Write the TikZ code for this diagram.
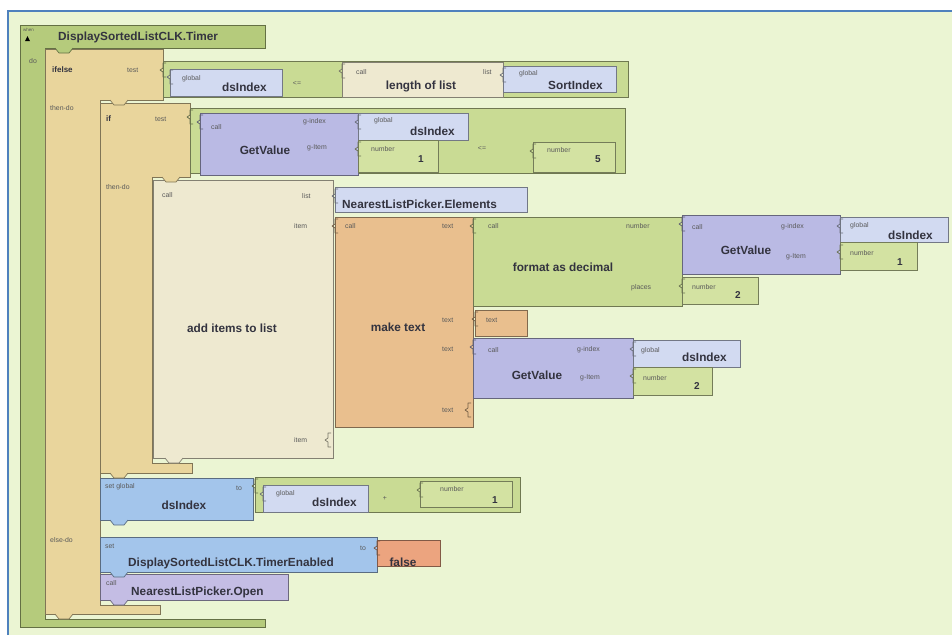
\documentclass[tikz,border=0pt]{standalone}
\usepackage{fontspec}
\setmainfont{Liberation Sans}
\definecolor{bgc}{HTML}{EBF5D3}
\definecolor{framec}{HTML}{4F81BD}
\definecolor{evgreen}{HTML}{B5CB7C}
\definecolor{tan}{HTML}{E9D59C}
\definecolor{cmpgreen}{HTML}{C9DB94}
\definecolor{numgreen}{HTML}{D3E2A2}
\definecolor{glob}{HTML}{D2DAF1}
\definecolor{gv}{HTML}{BABAE4}
\definecolor{cream}{HTML}{EEE9D0}
\definecolor{orng}{HTML}{E9BF8E}
\definecolor{setblue}{HTML}{A3C5EB}
\definecolor{falsec}{HTML}{ECA47F}
\definecolor{callp}{HTML}{C4BDE4}
\definecolor{ink}{HTML}{33333F}
\definecolor{smink}{HTML}{5A5A5A}
% a value or statement block as a named rectangle: name, colour, x1, y1, x2, y2
\newcommand\blk[6]{\node[blk=#2, minimum width={(#5-#3)*1pt}, minimum height={(#6-#4)*1pt}] (#1) at (#3,#4) {};}
% input socket bracket
\newcommand\sock[3]{\draw[#3!50!black, line width=0.7pt, line join=round] (#1+3,#2) -- (#1,#2) -- (#1,#2+5) -- (#1-3,#2+7) -- (#1,#2+9) -- (#1,#2+14) -- (#1+3,#2+14);}
% next-statement tab under a block
\newcommand\tabb[3]{\filldraw[fill=#3, draw=#3!55!black, line width=0.7pt] (#1,#2) -- (#1+4,#2+5) -- (#1+14,#2+5) -- (#1+18,#2);}
\begin{document}
\begin{tikzpicture}[x=1pt,y=-1pt,
  blk/.style={draw=#1!55!black, fill=#1, line width=0.8pt, inner sep=0pt, outer sep=0pt, anchor=north west, rectangle},
  cblk/.style={draw=#1!55!black, fill=#1, line width=0.8pt, line join=miter},
  big/.style={font=\fontsize{11.8}{13}\selectfont\bfseries, text=ink, inner sep=0pt},
  mid/.style={font=\fontsize{8}{9}\selectfont\bfseries, text=ink, inner sep=0pt},
  numl/.style={font=\fontsize{10}{11}\selectfont\bfseries, text=ink, inner sep=0pt},
  sm/.style={font=\fontsize{6.9}{8}\selectfont, text=smink, inner sep=0pt, anchor=west},
  tiny/.style={font=\fontsize{4.5}{5}\selectfont, text=smink, inner sep=0pt, anchor=west}]
\useasboundingbox (0,0) rectangle (952,635);
\fill[white] (0,0) rectangle (952,635);
\fill[bgc] (8,11) rectangle (952,635);
\draw[framec, line width=2.6pt] (8,635) -- (8,11) -- (952,11);

% event block
\filldraw[cblk=evgreen] (20,25) -- (265,25) -- (265,48) -- (45,48) -- (45,619) -- (265,619) -- (265,627) -- (20,627) -- cycle;
\node[tiny] (when) at (23,30) {when};
\fill[black] (25,41) -- (30,41) -- (27.5,36) -- cycle;
\node[big, anchor=west] (evname) at (58,37) {DisplaySortedListCLK.Timer};
\node[sm] (dolbl) at (29,61) {do};

% ifelse block
\filldraw[cblk=tan] (45,49) -- (163,49) -- (163,100) -- (100,100) -- (100,605) -- (160,605) -- (160,614) -- (45,614) -- cycle;
\node[mid, anchor=west] (ifelse) at (52,70) {ifelse};
\node[sm] (ietest) at (127,70) {test};
\node[sm] (iethen) at (50,108) {then-do};
\node[sm] (ieelse) at (50,540) {else-do};

% ifelse test: dsIndex <= length of list SortIndex
\blk{cmpA}{cmpgreen}{163}{61}{628}{97}
\blk{gA}{glob}{170}{69}{282}{96}
\node[sm] (gAl) at (182,79) {global};
\node[big, anchor=west] (gAv) at (222,87) {dsIndex};
\node[sm, anchor=center] (leA) at (297,83) {<=};
\blk{len}{cream}{342}{62}{503}{97}
\node[sm] (lencall) at (356,72) {call};
\node[big] (lenname) at (421,86) {length of list};
\node[sm] (lenlist) at (483,72) {list};
\blk{gS}{glob}{503}{66}{616}{92}
\node[sm] (gSl) at (519,74) {global};
\node[big, anchor=west] (gSv) at (548,85) {SortIndex};

% if block
\filldraw[cblk=tan] (100,103) -- (190,103) -- (190,177) -- (152,177) -- (152,463) -- (192,463) -- (192,473) -- (100,473) -- cycle;
\node[mid, anchor=west] (iflbl) at (106,119) {if};
\node[sm] (iftest) at (155,119) {test};
\node[sm] (ifthen) at (106,187) {then-do};

% if test: GetValue(dsIndex, 1) <= 5
\blk{cmpB}{cmpgreen}{190}{108}{625}{173}
\blk{gvA}{gv}{200}{113}{358}{175}
\node[sm] (gvAc) at (211,127) {call};
\node[big] (gvAn) at (265,150) {GetValue};
\node[sm] (gvAi) at (303,122) {g-index};
\node[sm] (gvAt) at (307,148) {g-Item};
\blk{gB}{glob}{358}{113}{468}{140}
\node[sm] (gBl) at (374,121) {global};
\node[big, anchor=west] (gBv) at (410,131) {dsIndex};
\blk{nA}{numgreen}{358}{140}{438}{172}
\node[sm] (nAl) at (371,149) {number};
\node[numl] (nAv) at (421,159) {1};
\node[sm, anchor=center] (leB) at (482,148) {<=};
\blk{nB}{numgreen}{533}{142}{615}{172}
\node[sm] (nBl) at (547,150) {number};
\node[numl] (nBv) at (598,159) {5};

% add items to list
\blk{add}{cream}{153}{180}{333}{458}
\node[sm] (addc) at (162,195) {call};
\node[sm] (addl) at (302,196) {list};
\node[sm] (addi1) at (294,226) {item};
\node[big] (addn) at (232,328) {add items to list};
\node[sm] (addi2) at (294,440) {item};
\blk{elem}{glob}{335}{187}{527}{212}
\node[big, anchor=west] (elemv) at (342,204) {NearestListPicker.Elements};

% make text
\blk{mk}{orng}{335}{217}{473}{427}
\node[sm] (mkc) at (345,226) {call};
\node[big] (mkn) at (398,327) {make text};
\node[sm] (mkt1) at (442,226) {text};
\node[sm] (mkt2) at (442,320) {text};
\node[sm] (mkt3) at (442,349) {text};
\node[sm] (mkt4) at (442,410) {text};

% format as decimal
\blk{fmt}{cmpgreen}{473}{217}{682}{306}
\node[sm] (fmtc) at (488,226) {call};
\node[big] (fmtn) at (563,267) {format as decimal};
\node[sm] (fmtnum) at (626,226) {number};
\node[sm] (fmtpl) at (631,288) {places};
\blk{gvB}{gv}{682}{215}{840}{274}
\node[sm] (gvBc) at (692,227) {call};
\node[big] (gvBn) at (746,250) {GetValue};
\node[sm] (gvBi) at (781,227) {g-index};
\node[sm] (gvBt) at (786,257) {g-Item};
\blk{gC}{glob}{840}{217}{948}{242}
\node[sm] (gCl) at (850,226) {global};
\node[big, anchor=west] (gCv) at (888,235) {dsIndex};
\blk{nC}{numgreen}{840}{242}{917}{270}
\node[sm] (nCl) at (850,253) {number};
\node[numl] (nCv) at (900,262) {1};
\blk{nD}{numgreen}{682}{277}{758}{304}
\node[sm] (nDl) at (692,287) {number};
\node[numl] (nDv) at (738,295) {2};

% empty text
\blk{txt}{orng}{475}{310}{527}{336}
\node[sm] (txtl) at (486,320) {text};

% GetValue(dsIndex, 2)
\blk{gvC}{gv}{473}{338}{633}{398}
\node[sm] (gvCc) at (488,350) {call};
\node[big] (gvCn) at (537,375) {GetValue};
\node[sm] (gvCi) at (577,350) {g-index};
\node[sm] (gvCt) at (580,378) {g-Item};
\blk{gD}{glob}{633}{340}{740}{367}
\node[sm] (gDl) at (641,351) {global};
\node[big, anchor=west] (gDv) at (682,357) {dsIndex};
\blk{nE}{numgreen}{633}{367}{712}{395}
\node[sm] (nEl) at (643,378) {number};
\node[numl] (nEv) at (697,386) {2};

% set global dsIndex to dsIndex + 1
\blk{setg}{setblue}{100}{478}{253}{520}
\node[sm] (setgl) at (105,487) {set global};
\node[big] (setgv) at (184,505) {dsIndex};
\node[sm] (setgto) at (236,488) {to};
\blk{plus}{cmpgreen}{255}{477}{520}{512}
\blk{gE}{glob}{263}{485}{368}{512}
\node[sm] (gEl) at (276,494) {global};
\node[big, anchor=west] (gEv) at (312,502) {dsIndex};
\node[sm, anchor=center] (plusl) at (385,498) {+};
\blk{nF}{numgreen}{420}{481}{512}{507}
\node[sm] (nFl) at (440,489) {number};
\node[numl] (nFv) at (495,500) {1};

% else-do: disable timer, open picker
\blk{sett}{setblue}{100}{537}{377}{572}
\node[sm] (settl) at (105,546) {set};
\node[big, anchor=west] (settv) at (128,563) {DisplaySortedListCLK.TimerEnabled};
\node[sm] (settto) at (360,548) {to};
\blk{fls}{falsec}{377}{540}{440}{566}
\node[big] (flsv) at (403,562) {false};
\blk{opn}{callp}{100}{574}{288}{600}
\node[sm] (opnc) at (106,583) {call};
\node[big, anchor=west] (opnv) at (131,592) {NearestListPicker.Open};

% sockets
\sock{163}{63}{cmpgreen}
\sock{170}{70}{glob}
\sock{342}{64}{cream}
\sock{503}{68}{glob}
\sock{190}{110}{cmpgreen}
\sock{200}{115}{gv}
\sock{358}{115}{glob}
\sock{358}{142}{numgreen}
\sock{533}{144}{numgreen}
\sock{335}{189}{glob}
\sock{335}{219}{orng}
\sock{328}{433}{cream}
\sock{473}{219}{cmpgreen}
\sock{475}{312}{orng}
\sock{473}{340}{gv}
\sock{468}{403}{orng}
\sock{682}{217}{gv}
\sock{682}{279}{numgreen}
\sock{840}{219}{glob}
\sock{840}{245}{numgreen}
\sock{633}{342}{glob}
\sock{633}{369}{numgreen}
\sock{255}{479}{cmpgreen}
\sock{263}{487}{glob}
\sock{420}{483}{numgreen}
\sock{377}{541}{falsec}

% statement tabs
\tabb{55}{48}{evgreen}
\tabb{110}{100}{tan}
\tabb{162}{177}{tan}
\tabb{165}{458}{cream}
\tabb{110}{473}{tan}
\tabb{110}{520}{setblue}
\tabb{110}{572}{setblue}
\tabb{110}{600}{callp}
\tabb{55}{614}{tan}
\end{tikzpicture}
\end{document}
